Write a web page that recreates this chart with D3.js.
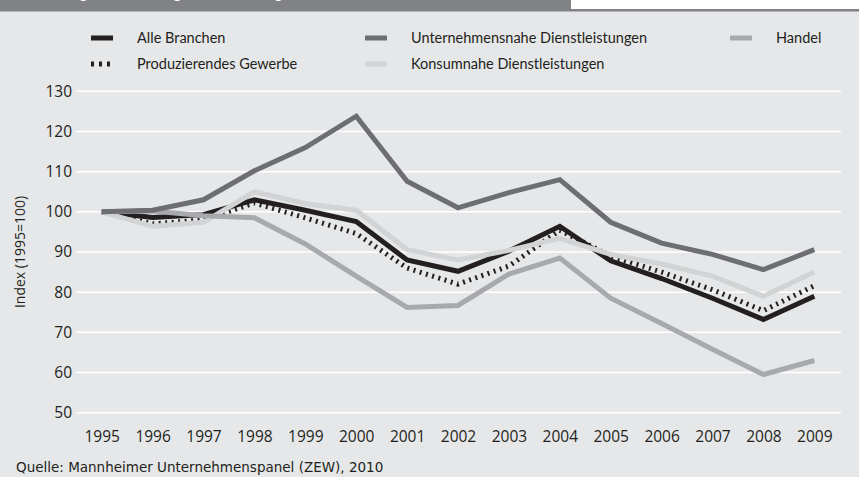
<!DOCTYPE html>
<html>
<head>
<meta charset="utf-8">
<script src="https://cdn.jsdelivr.net/npm/d3@7"></script>
<style>
  body { margin: 0; background: #e6e7e8; }
  svg { display: block; }
</style>
</head>
<body>
<svg width="859" height="477"></svg>
<script>
// Daten: Gruendungsindex nach Branchen (1995 = 100)
var years = [1995, 1996, 1997, 1998, 1999, 2000, 2001, 2002, 2003, 2004, 2005, 2006, 2007, 2008, 2009];
var alleBranchen = [100, 98.6, 99.3, 103, 100.4, 97.6, 88, 85.2, 90.2, 96.4, 87.8, 83.4, 78.5, 73.2, 79];
var produzierendes = [100, 97, 98, 102.2, 98.5, 94.6, 86, 82, 86.5, 95.4, 89, 85, 80.6, 75.4, 81.6];
var unternehmensnahe = [100, 100.4, 103, 110.2, 116, 123.8, 107.6, 101, 104.8, 108, 97.4, 92.2, 89.4, 85.6, 90.6];
var konsumnahe = [100, 96.4, 97.4, 105, 102, 100.4, 90.6, 88, 90.4, 93.4, 89.4, 87, 84, 79, 85];
var handel = [100, 100.2, 99, 98.5, 92, 84, 76.2, 76.7, 84.5, 88.5, 78.5, 72.2, 65.8, 59.5, 63];
var yTicks = [50, 60, 70, 80, 90, 100, 110, 120, 130];

var series = [
  {name: "Alle Branchen", values: alleBranchen, color: "#231f20", width: 5, dash: null},
  {name: "Produzierendes Gewerbe", values: produzierendes, color: "#231f20", width: 5, dash: "2,4.5"},
  {name: "Konsumnahe Dienstleistungen", values: konsumnahe, color: "#d1d3d4", width: 5, dash: null},
  {name: "Handel", values: handel, color: "#a7a9ac", width: 5, dash: null},
  {name: "Unternehmensnahe Dienstleistungen", values: unternehmensnahe, color: "#6d6e71", width: 5, dash: null}
];

var svg = d3.select("svg");

// Kopfleiste (Titel oben abgeschnitten wie im Original)
svg.append("rect").attr("x", 0).attr("y", 0).attr("width", 571).attr("height", 11.5).attr("fill", "#808285");
svg.append("rect").attr("x", 571).attr("y", 0).attr("width", 288).attr("height", 9).attr("fill", "#ffffff");
svg.append("rect").attr("x", 571).attr("y", 9).attr("width", 288).attr("height", 2.5).attr("fill", "#808285");
svg.append("text")
  .attr("x", 16).attr("y", -2.5)
  .attr("fill", "#ffffff")
  .style("font-family", "Lato, sans-serif").style("font-size", "16px")
  .text("Abbildung: Entwicklung der Gründungen nach Branchen, 1995–2009");

var x = d3.scalePoint().domain(years).range([101.7, 814.3]);
var y = d3.scaleLinear().domain([50, 130]).range([412.7, 91.3]);

// Gitterlinien
svg.append("g").selectAll("line")
  .data(yTicks).enter().append("line")
  .attr("x1", 76).attr("x2", 841)
  .attr("y1", function(d) { return y(d); })
  .attr("y2", function(d) { return y(d); })
  .attr("stroke", "#ffffff").attr("stroke-width", 1.5);

// Y-Achse
var yAxis = svg.append("g")
  .attr("transform", "translate(76,0)")
  .call(d3.axisLeft(y).tickValues(yTicks).tickSize(0).tickPadding(4));
yAxis.select(".domain").remove();
yAxis.selectAll("text")
  .style("font-family", "'Open Sans', sans-serif").style("font-size", "15.5px").attr("fill", "#231f20");

// X-Achse
var xAxis = svg.append("g")
  .attr("transform", "translate(0,428)")
  .call(d3.axisBottom(x).tickSize(0).tickPadding(3));
xAxis.select(".domain").remove();
xAxis.selectAll("text")
  .style("font-family", "'Open Sans', sans-serif").style("font-size", "15.5px").attr("fill", "#231f20");

// Achsentitel
svg.append("text")
  .attr("transform", "translate(25,252) rotate(-90)")
  .attr("text-anchor", "middle")
  .style("font-family", "'Open Sans', sans-serif").style("font-size", "14px")
  .attr("fill", "#231f20")
  .text("Index (1995=100)");

// Linien
var line = d3.line()
  .x(function(d, i) { return x(years[i]); })
  .y(function(d) { return y(d); });

svg.append("g").selectAll("path")
  .data(series).enter().append("path")
  .attr("d", function(d) { return line(d.values); })
  .attr("fill", "none")
  .attr("stroke", function(d) { return d.color; })
  .attr("stroke-width", function(d) { return d.width; })
  .attr("stroke-dasharray", function(d) { return d.dash; })
  .attr("stroke-linejoin", "miter");

// Legende
var legendPos = [
  {name: "Alle Branchen", x: 91, y: 38},
  {name: "Produzierendes Gewerbe", x: 91, y: 64},
  {name: "Unternehmensnahe Dienstleistungen", x: 365, y: 38},
  {name: "Konsumnahe Dienstleistungen", x: 365, y: 64},
  {name: "Handel", x: 730, y: 38}
];
var lg = svg.append("g").selectAll("g")
  .data(legendPos).enter().append("g")
  .attr("transform", function(d) { return "translate(" + d.x + "," + d.y + ")"; });
lg.append("line")
  .attr("x1", 0).attr("x2", 22).attr("y1", 0).attr("y2", 0)
  .attr("stroke", function(d) { return series.find(function(s) { return s.name == d.name; }).color; })
  .attr("stroke-width", 5)
  .attr("stroke-dasharray", function(d) { return d.name == "Produzierendes Gewerbe" ? "3,5" : null; });
lg.append("text")
  .attr("x", 46).attr("y", 5)
  .style("font-family", "Lato, sans-serif").style("font-size", "14.5px")
  .attr("fill", "#231f20")
  .text(function(d) { return d.name; });

// Quelle
svg.append("text")
  .attr("x", 16).attr("y", 472)
  .style("font-family", "'DejaVu Sans', sans-serif").style("font-size", "13.5px")
  .attr("fill", "#231f20")
  .text("Quelle: Mannheimer Unternehmenspanel (ZEW), 2010");
</script>
</body>
</html>
